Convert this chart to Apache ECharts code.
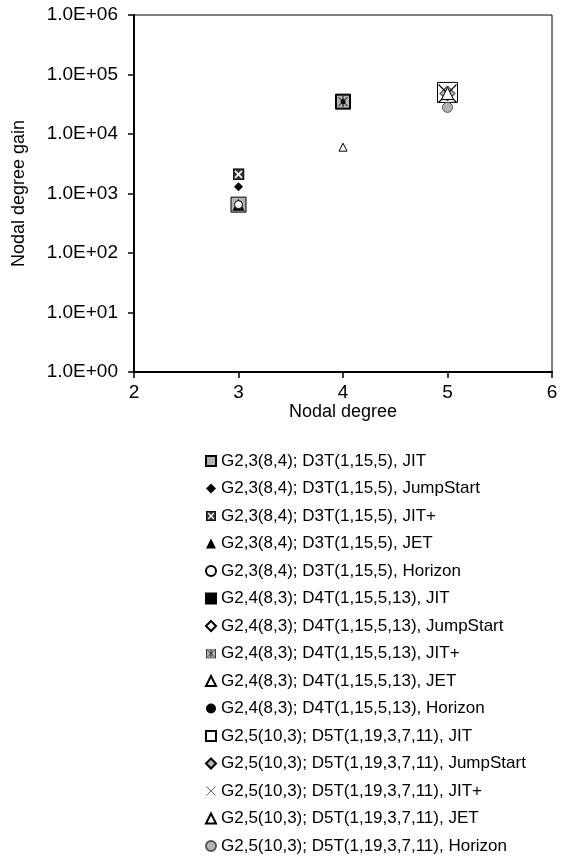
<!DOCTYPE html>
<html>
<head>
<meta charset="utf-8">
<script src="https://cdn.jsdelivr.net/npm/echarts@6/dist/echarts.min.js"></script>
<style>
  html, body { margin: 0; padding: 0; background: #fff; }
  #main { width: 563px; height: 857px; }
</style>
</head>
<body>
<div id="main"></div>
<script>
// series names, x (nodal degree) and y (nodal degree gain)
const seriesNames = [
  'G2,3(8,4); D3T(1,15,5), JIT',
  'G2,3(8,4); D3T(1,15,5), JumpStart',
  'G2,3(8,4); D3T(1,15,5), JIT+',
  'G2,3(8,4); D3T(1,15,5), JET',
  'G2,3(8,4); D3T(1,15,5), Horizon',
  'G2,4(8,3); D4T(1,15,5,13), JIT',
  'G2,4(8,3); D4T(1,15,5,13), JumpStart',
  'G2,4(8,3); D4T(1,15,5,13), JIT+',
  'G2,4(8,3); D4T(1,15,5,13), JET',
  'G2,4(8,3); D4T(1,15,5,13), Horizon',
  'G2,5(10,3); D5T(1,19,3,7,11), JIT',
  'G2,5(10,3); D5T(1,19,3,7,11), JumpStart',
  'G2,5(10,3); D5T(1,19,3,7,11), JIT+',
  'G2,5(10,3); D5T(1,19,3,7,11), JET',
  'G2,5(10,3); D5T(1,19,3,7,11), Horizon'
];
const nodalDegree = [3, 3, 3, 3, 3, 4, 4, 4, 4, 4, 5, 5, 5, 5, 5];
const nodalGain = [650, 1300, 2100, 650, 650, 35000, 35000, 35000, 6000, 35000, 50000, 48000, 48000, 48000, 28000];

const xTicks = [2, 3, 4, 5, 6];

function svg(body, w, h) {
  return 'image://data:image/svg+xml;charset=utf-8,' + encodeURIComponent(
    "<svg xmlns='http://www.w3.org/2000/svg' width='" + w + "' height='" + h + "' viewBox='0 0 " + w + " " + h + "'>" + body + "</svg>");
}

const boxX = svg("<rect x='0.5' y='0.5' width='11' height='11' fill='#333' stroke='#000'/><path d='M2.5 2.5L9.5 9.5M9.5 2.5L2.5 9.5' stroke='#fff' stroke-width='1.6'/>", 12, 12);
const greyStar = svg("<rect x='0.5' y='0.5' width='13' height='13' fill='#b4b4b4' stroke='#000'/><path d='M2.5 2.5L11.5 11.5M11.5 2.5L2.5 11.5M7 1.5L7 12.5' stroke='#000' stroke-width='1'/>", 14, 14);
const crossX = svg("<path d='M1 1L19 19M19 1L1 19' stroke='#000' stroke-width='1.2'/>", 20, 20);

const styles = [
  { symbol: 'rect', size: 15, color: '#b4b4b4', border: '#000', bw: 1 },
  { symbol: 'diamond', size: 9, color: '#000', border: '#000', bw: 0 },
  { symbol: boxX, size: 12, color: '#333', border: '#000', bw: 0 },
  { symbol: 'triangle', size: 12, color: '#000', border: '#000', bw: 0 },
  { symbol: 'circle', size: 8, color: '#fff', border: '#000', bw: 1 },
  { symbol: 'rect', size: 15, color: '#000', border: '#000', bw: 1 },
  { symbol: 'diamond', size: 14, color: '#fff', border: '#000', bw: 1 },
  { symbol: greyStar, size: 14, color: '#b4b4b4', border: '#000', bw: 0 },
  { symbol: 'triangle', size: 8, color: '#fff', border: '#000', bw: 1 },
  { symbol: 'circle', size: 5, color: '#000', border: '#000', bw: 0 },
  { symbol: 'rect', size: 20, color: '#fff', border: '#000', bw: 1 },
  { symbol: 'diamond', size: 15, color: '#b4b4b4', border: '#000', bw: 1 },
  { symbol: crossX, size: 20, color: '#000', border: '#000', bw: 0 },
  { symbol: 'triangle', size: 12, color: '#fff', border: '#000', bw: 1 },
  { symbol: 'circle', size: 10, color: '#b4b4b4', border: '#555', bw: 1 }
];

const chart = echarts.init(document.getElementById('main'));

function fmtExp(v) {
  const e = Math.round(Math.log10(v));
  return '1.0E+' + (e < 10 ? '0' : '') + e;
}

const series = seriesNames.map((name, i) => ({
  name,
  type: 'scatter',
  symbol: styles[i].symbol,
  symbolSize: styles[i].size,
  itemStyle: {
    color: styles[i].color,
    borderColor: styles[i].border,
    borderWidth: styles[i].bw,
    opacity: 1
  },
  emphasis: { disabled: true },
  z: 2 + i,
  data: [[nodalDegree[i], nodalGain[i]]]
}));

chart.setOption({
  animation: false,
  textStyle: { fontFamily: 'Liberation Sans, Arial, sans-serif' },
  grid: {
    left: 134, right: 11, top: 15, bottom: 485,
    show: true, borderColor: '#000', borderWidth: 1, backgroundColor: 'transparent'
  },
  legend: {
    orient: 'vertical',
    left: 200,
    top: 446,
    height: 420,
    itemWidth: 10,
    itemHeight: 10,
    itemGap: 7.5,
    selectedMode: false,
    textStyle: { fontSize: 17, color: '#000', lineHeight: 20 },
    data: seriesNames
  },
  xAxis: {
    type: 'value',
    min: xTicks[0],
    max: xTicks[xTicks.length - 1],
    interval: 1,
    name: 'Nodal degree',
    nameLocation: 'middle',
    nameGap: 30,
    nameTextStyle: { fontSize: 18, color: '#000' },
    axisLine: { show: true, onZero: false, lineStyle: { color: '#000', width: 2 } },
    axisTick: { show: true, length: 6, lineStyle: { color: '#000', width: 1.5 } },
    axisLabel: { fontSize: 19, color: '#000', margin: 11 },
    splitLine: { show: false }
  },
  yAxis: {
    type: 'log',
    logBase: 10,
    min: 1,
    max: 1e6,
    name: 'Nodal degree gain',
    nameLocation: 'middle',
    nameGap: 106,
    nameRotate: 90,
    nameTextStyle: { fontSize: 18, color: '#000' },
    axisLine: { show: true, lineStyle: { color: '#000', width: 2 } },
    axisTick: { show: true, length: 6, lineStyle: { color: '#000', width: 1.5 } },
    axisLabel: { fontSize: 19, color: '#000', margin: 16, formatter: fmtExp },
    splitLine: { show: false }
  },
  series
});

window.addEventListener('resize', () => chart.resize());
</script>
</body>
</html>
